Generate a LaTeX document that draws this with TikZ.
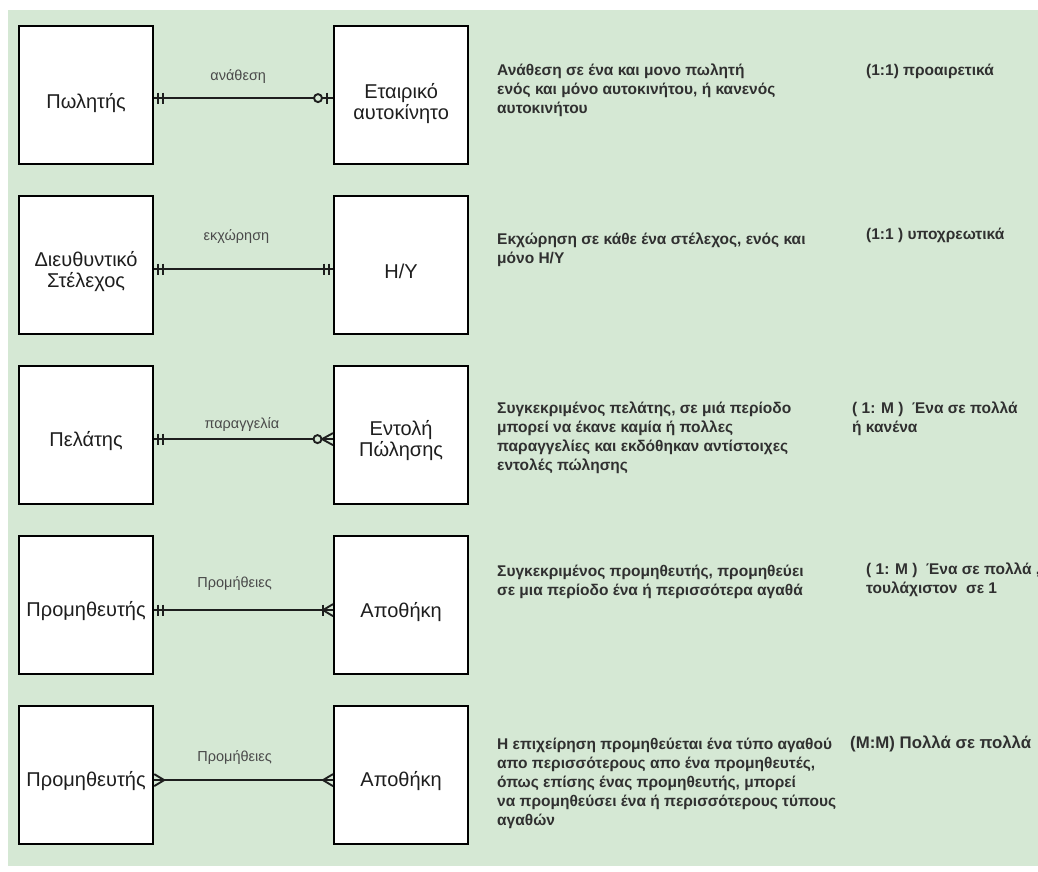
\documentclass[tikz,border=0pt]{standalone}
\usepackage{fontspec}
\setmainfont{Liberation Sans}
\usetikzlibrary{calc}

\definecolor{bggreen}{HTML}{D5E8D4}
\definecolor{inkdark}{HTML}{1E1E1E}
\definecolor{desctext}{HTML}{303030}
\definecolor{reltext}{HTML}{4A4A4A}

\tikzset{
  entity/.style={draw=black, fill=white, line width=2.2pt, rectangle,
    minimum width=134pt, minimum height=138pt, inner sep=0pt, anchor=north west},
  entitytext/.style={align=center, inner sep=0pt, text=inkdark,
    font=\fontsize{20}{21}\selectfont},
  rel/.style={draw=inkdark, line width=2pt},
  mk/.style={draw=inkdark, line width=1.9pt},
  rellabel/.style={inner sep=0pt, text=reltext, font=\fontsize{14.5}{17}\selectfont},
  desc/.style={anchor=north west, inner sep=0pt, align=left, text=desctext,
    font=\fontsize{15.5}{19}\selectfont\bfseries},
  desclarge/.style={desc, font=\fontsize{16.8}{19}\selectfont\bfseries},
  % crow's foot end markers, drawn from the entity edge towards the line
  pics/mandone/.style={code={\draw[mk] (4,-5.5) -- (4,5.5) (9,-5.5) -- (9,5.5);}},
  pics/zeroone/.style={code={\draw[mk] (6,-5.5) -- (6,5.5);
      \draw[mk, fill=bggreen] (15,0) circle[radius=4];}},
  pics/zeromany/.style={code={\draw[mk] (11,0) -- (0,-6) (11,0) -- (0,6);
      \draw[mk, fill=bggreen] (15.5,0) circle[radius=4];}},
  pics/onemany/.style={code={\draw[mk] (10,-5.5) -- (10,5.5);
      \draw[mk] (10,0) -- (0,-6) (10,0) -- (0,6);}},
  pics/crowmany/.style={code={\draw[mk] (10,0) -- (0,-6) (10,0) -- (0,6);}},
}

\begin{document}
\begin{tikzpicture}[x=1pt, y=-1pt]
\useasboundingbox (0,0) rectangle (1038,871);
\clip (0,0) rectangle (1038,871);
\fill[bggreen] (8,10) rectangle (1040,866);

% ---------- row 1 ----------
\node[entity] (L1) at (18,25) {};
\node[entity] (R1) at (333,25) {};
\node[entitytext] (L1t) at ([yshift=-8pt]L1.center) {Πωλητής};
\node[entitytext] (R1t) at ([yshift=-8pt]R1.center) {Εταιρικό\\αυτοκίνητο};
\coordinate (a1) at ([yshift=-3pt]L1.east);
\coordinate (b1) at ([yshift=-3pt]R1.west);
\draw[rel] (a1) -- (b1);
\pic at (a1) {mandone};
\pic[xscale=-1] at (b1) {zeroone};
\node[rellabel] (l1) at ($(a1)!0.47!(b1)+(0,-22)$) {ανάθεση};
\node[desc] (d1) at (497,62) {\strut Ανάθεση σε ένα και μονο πωλητή\\ενός και μόνο αυτοκινήτου, ή κανενός\\αυτοκινήτου};
\node[desc] (c1) at (866,62) {\strut (1:1) προαιρετικά};

% ---------- row 2 ----------
\node[entity] (L2) at (18,195) {};
\node[entity] (R2) at (333,195) {};
\node[entitytext] (L2t) at ([yshift=-6pt]L2.center) {Διευθυντικό\\Στέλεχος};
\node[entitytext] (R2t) at ([yshift=-6pt]R2.center) {Η/Υ};
\coordinate (a2) at ([yshift=-4pt]L2.east);
\coordinate (b2) at ([yshift=-4pt]R2.west);
\draw[rel] (a2) -- (b2);
\pic at (a2) {mandone};
\pic[xscale=-1] at (b2) {mandone};
\node[rellabel] (l2) at ($(a2)!0.46!(b2)+(0,-33)$) {εκχώρηση};
\node[desc] (d2) at (497,231) {\strut Εκχώρηση σε κάθε ένα στέλεχος, ενός και\\μόνο Η/Υ};
\node[desc] (c2) at (866,226) {\strut (1:1 ) υποχρεωτικά};

% ---------- row 3 ----------
\node[entity] (L3) at (18,365) {};
\node[entity] (R3) at (333,365) {};
\node[entitytext] (L3t) at ([yshift=-6pt]L3.center) {Πελάτης};
\node[entitytext] (R3t) at ([yshift=-5pt]R3.center) {Εντολή\\Πώλησης};
\coordinate (a3) at ([yshift=-4pt]L3.east);
\coordinate (b3) at ([yshift=-4pt]R3.west);
\draw[rel] (a3) -- (b3);
\pic at (a3) {mandone};
\pic[xscale=-1] at (b3) {zeromany};
\node[rellabel] (l3) at ($(a3)!0.49!(b3)+(0,-15)$) {παραγγελία};
\node[desc] (d3) at (497,400) {\strut Συγκεκριμένος πελάτης, σε μιά περίοδο\\μπορεί να έκανε καμία ή πολλες\\παραγγελίες και εκδόθηκαν αντίστοιχες\\εντολές πώλησης};
\node[desc] (c3) at (852,400) {\strut ( 1: Μ )\ \ Ένα σε πολλά\\ή κανένα};

% ---------- row 4 ----------
\node[entity] (L4) at (18,535) {};
\node[entity] (R4) at (333,535) {};
\node[entitytext] (L4t) at ([yshift=-6pt]L4.center) {Προμηθευτής};
\node[entitytext] (R4t) at ([yshift=-7pt]R4.center) {Αποθήκη};
\coordinate (a4) at ([yshift=-5pt]L4.east);
\coordinate (b4) at ([yshift=-5pt]R4.west);
\draw[rel] (a4) -- (b4);
\pic at (a4) {mandone};
\pic[xscale=-1] at (b4) {onemany};
\node[rellabel] (l4) at ($(a4)!0.45!(b4)+(0,-27)$) {Προμήθειες};
\node[desc] (d4) at (497,563) {\strut Συγκεκριμένος προμηθευτής, προμηθεύει\\σε μια περίοδο ένα ή περισσότερα αγαθά};
\node[desc] (c4) at (866,561) {\strut ( 1: Μ )\ \ Ένα σε πολλά ,\\τουλάχιστον\ \ σε 1};

% ---------- row 5 ----------
\node[entity] (L5) at (18,705) {};
\node[entity] (R5) at (333,705) {};
\node[entitytext] (L5t) at ([yshift=-6pt]L5.center) {Προμηθευτής};
\node[entitytext] (R5t) at ([yshift=-6pt]R5.center) {Αποθήκη};
\coordinate (a5) at ([yshift=-5pt]L5.east);
\coordinate (b5) at ([yshift=-5pt]R5.west);
\draw[rel] (a5) -- (b5);
\pic at (a5) {crowmany};
\pic[xscale=-1] at (b5) {crowmany};
\node[rellabel] (l5) at ($(a5)!0.45!(b5)+(0,-23)$) {Προμήθειες};
\node[desc] (d5) at (497,736) {\strut Η επιχείρηση προμηθεύεται ένα τύπο αγαθού\\απο περισσότερους απο ένα προμηθευτές,\\όπως επίσης ένας προμηθευτής, μπορεί\\να προμηθεύσει ένα ή περισσότερους τύπους\\αγαθών};
\node[desclarge] (c5) at (850,735) {\strut (Μ:Μ) Πολλά σε πολλά};
\end{tikzpicture}
\end{document}
